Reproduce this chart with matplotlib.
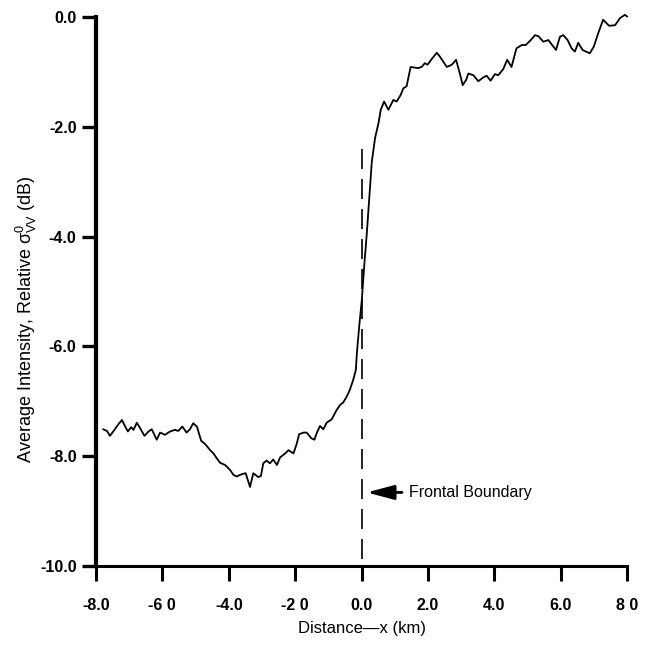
import numpy as np
import matplotlib
matplotlib.use("Agg")
from matplotlib import pyplot as plt

plt.rcParams['font.family'] = ['Liberation Sans', 'DejaVu Sans']
plt.rcParams['mathtext.fontset'] = 'custom'
plt.rcParams['mathtext.rm'] = 'Liberation Sans'
plt.rcParams['mathtext.default'] = 'regular'

# %%
# Data (distance in km, relative intensity in dB)
distance_km = [
    -7.78, -7.67, -7.58, -7.48, -7.34, -7.22, -7.12, -7.04, -6.94, -6.87,
    -6.77, -6.67, -6.54, -6.42, -6.32, -6.17, -6.07, -5.92, -5.77, -5.62,
    -5.52, -5.40, -5.27, -5.17, -5.07, -4.96, -4.83, -4.71, -4.56, -4.46,
    -4.36, -4.26, -4.11, -4.01, -3.96, -3.86, -3.76, -3.66, -3.56, -3.49,
    -3.36, -3.26, -3.11, -3.03, -2.96, -2.86, -2.76, -2.66, -2.55, -2.45,
    -2.30, -2.20, -2.05, -1.95, -1.88, -1.75, -1.65, -1.52, -1.42, -1.35,
    -1.25, -1.15, -1.05, -0.90, -0.75, -0.65, -0.55, -0.45, -0.35, -0.25,
    -0.17, -0.14, -0.07, 0.01, 0.08, 0.16, 0.23, 0.31, 0.41, 0.51,
    0.58, 0.68, 0.81, 0.96, 1.06, 1.18, 1.26, 1.36, 1.48, 1.58,
    1.71, 1.81, 1.91, 1.99, 2.11, 2.27, 2.36, 2.57, 2.72, 2.85,
    2.95, 3.05, 3.15, 3.22, 3.37, 3.52, 3.67, 3.77, 3.89, 4.02,
    4.12, 4.27, 4.39, 4.52, 4.67, 4.83, 4.95, 5.10, 5.23, 5.33,
    5.48, 5.63, 5.86, 5.98, 6.08, 6.21, 6.33, 6.43, 6.53, 6.66,
    6.76, 6.88, 7.00, 7.13, 7.28, 7.46, 7.64, 7.79, 7.94, 8.00,
]
intensity_db = [
    -7.51, -7.54, -7.63, -7.55, -7.43, -7.34, -7.46, -7.55, -7.47, -7.52,
    -7.39, -7.49, -7.63, -7.55, -7.51, -7.70, -7.57, -7.61, -7.55, -7.52,
    -7.54, -7.46, -7.57, -7.51, -7.40, -7.46, -7.72, -7.78, -7.89, -7.95,
    -8.04, -8.12, -8.16, -8.22, -8.25, -8.34, -8.37, -8.34, -8.32, -8.31,
    -8.56, -8.31, -8.38, -8.36, -8.13, -8.08, -8.13, -8.06, -8.16, -8.02,
    -7.95, -7.89, -7.95, -7.77, -7.60, -7.57, -7.57, -7.67, -7.70, -7.58,
    -7.45, -7.51, -7.39, -7.33, -7.16, -7.07, -7.02, -6.92, -6.79, -6.61,
    -6.43, -6.13, -5.64, -5.15, -4.55, -3.94, -3.33, -2.64, -2.20, -1.94,
    -1.69, -1.54, -1.69, -1.51, -1.54, -1.42, -1.30, -1.26, -0.91, -0.92,
    -0.93, -0.91, -0.84, -0.87, -0.77, -0.65, -0.72, -0.91, -0.87, -0.78,
    -1.00, -1.24, -1.15, -1.03, -1.06, -1.17, -1.10, -1.07, -1.16, -1.04,
    -1.06, -0.95, -0.78, -0.91, -0.57, -0.51, -0.51, -0.42, -0.33, -0.35,
    -0.45, -0.42, -0.60, -0.36, -0.33, -0.42, -0.57, -0.63, -0.47, -0.60,
    -0.63, -0.66, -0.54, -0.30, -0.05, -0.16, -0.15, -0.02, 0.04, 0.01,
]

front_x = 0.0
front_top = -2.4

x_ticks = [-8, -6, -4, -2, 0, 2, 4, 6, 8]
x_ticklabels = ['-8.0', '-6 0', '-4.0', '-2 0', '0.0', '2.0', '4.0', '6.0', '8 0']
y_ticks = [-10, -8, -6, -4, -2, 0]
y_ticklabels = ['-10.0', '-8.0', '-6.0', '-4.0', '-2.0', '0.0']

# %%
fig = plt.figure(figsize=(6.49, 6.57), dpi=100)
ax = fig.add_axes([96 / 649, 1 - 566 / 657, 531 / 649, 549 / 657])

ax.plot(distance_km, intensity_db, color='black', lw=1.3, clip_on=False)

# Frontal boundary marker
ax.plot([front_x, front_x], [front_top, -10], color='black', lw=1.2,
        dashes=(12, 6))
ax.annotate('Frontal Boundary', xy=(0.16, -8.66), xytext=(1.43, -8.66),
            va='center', ha='left', fontsize=11.5,
            arrowprops=dict(arrowstyle='-|>,head_length=1.5,head_width=0.4',
                            color='black', lw=2, shrinkA=3, shrinkB=0,
                            mutation_scale=11))

ax.set_xlim(-8, 8)
ax.set_ylim(-10, 0)
ax.set_xticks(x_ticks)
ax.set_xticklabels(x_ticklabels, fontweight='bold', fontsize=11.5)
ax.set_yticks(y_ticks)
ax.set_yticklabels(y_ticklabels, fontweight='bold', fontsize=11.5)

for side in ['top', 'right']:
    ax.spines[side].set_visible(False)
ax.spines['left'].set_linewidth(3)
ax.spines['bottom'].set_linewidth(2.2)
ax.tick_params(axis='y', direction='out', length=10, width=2.4, pad=4)
ax.tick_params(axis='x', direction='out', length=11, width=2.2, pad=12)

ax.set_xlabel('Distance\u2014x (km)', fontsize=12)
ax.xaxis.set_label_coords(0.5, -0.1)
ax.set_ylabel(r'Average Intensity, Relative $\sigma^{0}_{VV}$ (dB)', fontsize=13)
ax.yaxis.set_label_coords(-0.108, 0.45)

fig.savefig('out.png', dpi=100)
